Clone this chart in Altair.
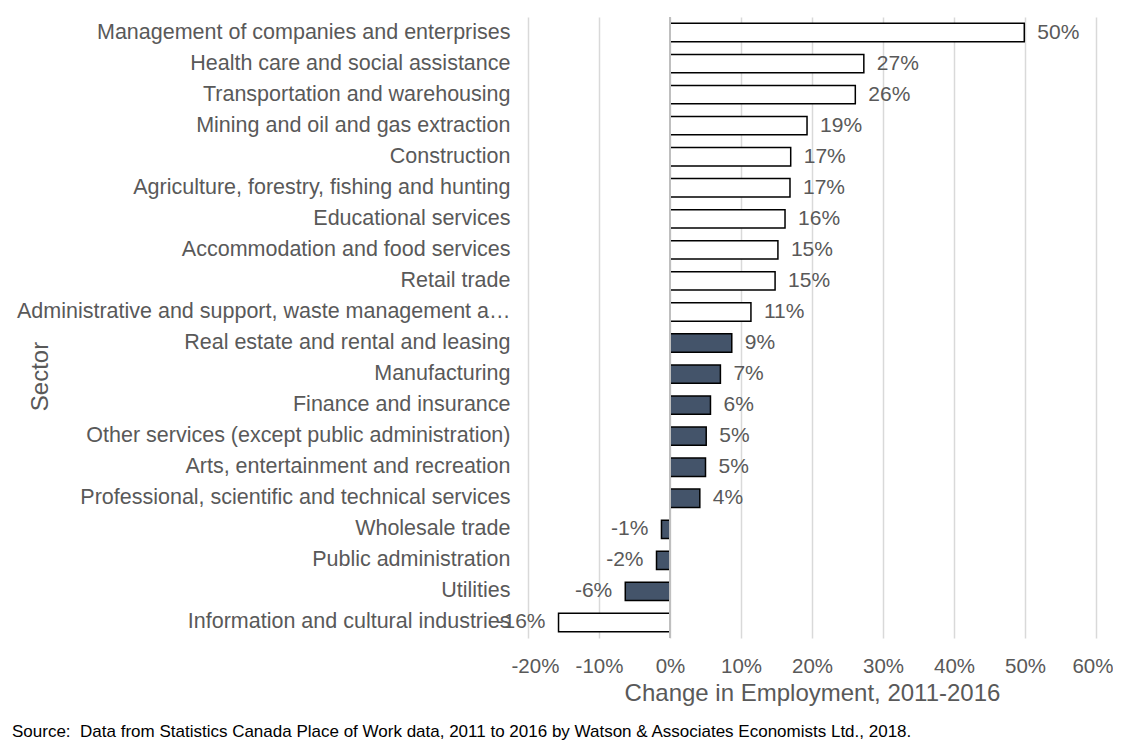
import altair as alt
import pandas as pd

sectors = [
    "Management of companies and enterprises",
    "Health care and social assistance",
    "Transportation and warehousing",
    "Mining and oil and gas extraction",
    "Construction",
    "Agriculture, forestry, fishing and hunting",
    "Educational services",
    "Accommodation and food services",
    "Retail trade",
    "Administrative and support, waste management and remediation services",
    "Real estate and rental and leasing",
    "Manufacturing",
    "Finance and insurance",
    "Other services (except public administration)",
    "Arts, entertainment and recreation",
    "Professional, scientific and technical services",
    "Wholesale trade",
    "Public administration",
    "Utilities",
    "Information and cultural industries",
]
change_pct = [49.9, 27.3, 26.1, 19.3, 17.0, 16.9, 16.2, 15.2, 14.8, 11.4,
              8.7, 7.1, 5.7, 5.1, 5.0, 4.2, -1.2, -1.9, -6.3, -15.7]
fill_group = ["open"] * 10 + ["solid"] * 9 + ["open"]
x_ticks = [-20, -10, 0, 10, 20, 30, 40, 50, 60]

df = pd.DataFrame({"Sector": sectors, "Change": change_pct, "Group": fill_group})

FONT = "Liberation Sans"
GRAY = "#595959"

y_enc = alt.Y(
    "Sector:N",
    sort=sectors,
    scale=alt.Scale(paddingInner=0.41, paddingOuter=0.205),
    axis=alt.Axis(
        title="Sector",
        titleFontSize=24,
        titleFontWeight="normal",
        titleColor=GRAY,
        titleFont=FONT,
        titleAngle=270,
        titleX=-488,
        titleY=359,
        titleAlign="center",
        titleBaseline="middle",
        labelFontSize=21.5,
        labelFont=FONT,
        labelColor=GRAY,
        labelPadding=18,
        labelLimit=500,
        ticks=False,
        domain=False,
        grid=False,
    ),
)

x_scale = alt.Scale(domain=[-20, 60], nice=False)

base = alt.Chart(df)

bars = base.mark_bar(stroke="black", strokeWidth=1.5).encode(
    x=alt.X(
        "Change:Q",
        scale=x_scale,
        axis=alt.Axis(
            title="Change in Employment, 2011-2016",
            titleFontSize=24,
            titleFontWeight="normal",
            titleColor=GRAY,
            titleFont=FONT,
            titlePadding=5,
            values=x_ticks,
            labelExpr="datum.value + '%'",
            labelOverlap=False,
            labelFlush=True,
            labelFlushOffset=17,
            labelFontSize=20.5,
            labelFont=FONT,
            labelColor=GRAY,
            labelPadding=18,
            ticks=False,
            domain=False,
            grid=True,
            gridColor="#d9d9d9",
            gridWidth=1.5,
        ),
    ),
    x2=alt.datum(0),
    y=y_enc,
    color=alt.Color(
        "Group:N",
        scale=alt.Scale(domain=["open", "solid"], range=["#ffffff", "#44546a"]),
        legend=None,
    ),
)

label_expr = "toString(round(datum.Change)) + '%'"

pos_labels = base.transform_filter("datum.Change >= 0").transform_calculate(
    lbl=label_expr
).mark_text(align="left", baseline="middle", dx=13, fontSize=21, font=FONT, color=GRAY).encode(
    x=alt.X("Change:Q", scale=x_scale),
    y=alt.Y("Sector:N", sort=sectors),
    text="lbl:N",
)

neg_labels = base.transform_filter("datum.Change < 0").transform_calculate(
    lbl=label_expr
).mark_text(align="right", baseline="middle", dx=-13, fontSize=21, font=FONT, color=GRAY).encode(
    x=alt.X("Change:Q", scale=x_scale),
    y=alt.Y("Sector:N", sort=sectors),
    text="lbl:N",
)

zero_rule = base.mark_rule(color="#bfbfbf", strokeWidth=1.5).encode(
    x=alt.datum(0),
)

chart = alt.layer(bars, zero_rule, pos_labels, neg_labels).properties(
    width=568,
    height=621,
    autosize=alt.AutoSizeParams(type="none"),
    padding={"left": 520, "top": 9, "right": 17, "bottom": 107},
    title=alt.TitleParams(
        text="Source:\u00a0\u00a0Data from Statistics Canada Place of Work data, 2011 to 2016 by Watson & Associates Economists Ltd., 2018.",
        orient="bottom",
        anchor="start",
        frame="group",
        dx=-516,
        offset=18,
        fontSize=17,
        fontWeight="normal",
        font=FONT,
        color="#000000",
    ),
).configure_view(stroke=None)

chart.save("out.html", embed_options={"renderer": "svg", "actions": False})
